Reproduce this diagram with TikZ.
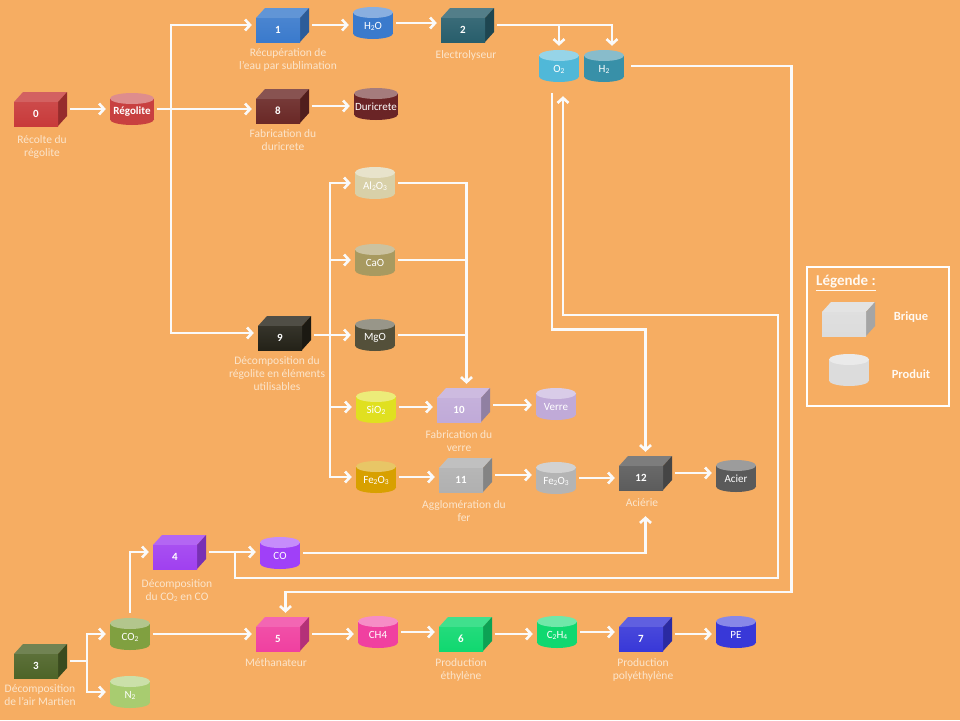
\documentclass[tikz,border=0pt]{standalone}
\usepackage{fontspec}
\setmainfont{Carlito}
\usetikzlibrary{arrows.meta,calc}
\definecolor{bg}{RGB}{246,173,98}
\definecolor{lbl}{RGB}{251,229,204}
\definecolor{lnc}{RGB}{250,250,250}
% bricks
\definecolor{k0}{RGB}{200,58,58}
\definecolor{k1}{RGB}{58,122,204}
\definecolor{k2}{RGB}{40,94,108}
\definecolor{k8}{RGB}{106,40,38}
\definecolor{k9}{RGB}{36,34,24}
\definecolor{k10}{RGB}{192,170,216}
\definecolor{k11}{RGB}{176,176,176}
\definecolor{k12}{RGB}{92,92,92}
\definecolor{k3}{RGB}{78,100,40}
\definecolor{k4}{RGB}{160,64,240}
\definecolor{k5}{RGB}{240,64,160}
\definecolor{k6}{RGB}{16,216,112}
\definecolor{k7}{RGB}{56,56,216}
\definecolor{kleg}{RGB}{220,220,220}
% cylinders
\definecolor{yreg}{RGB}{200,64,64}
\definecolor{yh2o}{RGB}{58,122,204}
\definecolor{yo2}{RGB}{80,184,216}
\definecolor{yh2}{RGB}{56,144,168}
\definecolor{yduri}{RGB}{106,36,38}
\definecolor{yal}{RGB}{216,208,168}
\definecolor{ycao}{RGB}{168,154,96}
\definecolor{ymgo}{RGB}{84,80,58}
\definecolor{ysio}{RGB}{224,224,32}
\definecolor{yfe1}{RGB}{216,160,0}
\definecolor{yverre}{RGB}{192,170,216}
\definecolor{yfe2}{RGB}{180,180,180}
\definecolor{yacier}{RGB}{90,90,90}
\definecolor{yco}{RGB}{160,64,248}
\definecolor{yco2}{RGB}{128,160,64}
\definecolor{yn2}{RGB}{168,204,112}
\definecolor{ych4}{RGB}{240,64,160}
\definecolor{yc2h4}{RGB}{16,216,112}
\definecolor{ype}{RGB}{56,56,216}
\newcommand\sbs[1]{\raisebox{-0.2ex}{\fontsize{7.5}{8}\selectfont #1}}
\tikzset{
  flow/.style={draw=lnc, line width=2.6pt, line cap=rect,
    -{Straight Barb[length=5pt,width=11pt]}, shorten >=4pt},
  gap/.style={shorten <=4pt},
  plain/.style={draw=lnc, line width=2.6pt, line cap=rect},
  bx/.style={inner sep=0pt, minimum width=53pt, minimum height=34pt},
  cyn/.style={inner sep=0pt, minimum height=32pt},
  numtxt/.style={text=white, inner sep=0pt, font=\bfseries\fontsize{11}{12}\selectfont},
  cyltxt/.style={text=white, inner sep=0pt, font=\fontsize{11}{12}\selectfont},
  caption/.style={text=lbl, align=center, inner sep=0pt, font=\fontsize{11.5}{13}\selectfont},
  legtxt/.style={text=white!95!orange, inner sep=0pt, font=\bfseries\fontsize{12.5}{14}\selectfont},
}
% brick: name, fx, fy (front centre), colour, label
\newcommand\brick[5]{%
  \fill[#4!80!white] (#2-22,#3-12) -- (#2-13,#3-22) -- (#2+31,#3-22) -- (#2+22,#3-12) -- cycle;
  \fill[#4!75!black] (#2+22,#3-12) -- (#2+31,#3-22) -- (#2+31,#3+2) -- (#2+22,#3+12) -- cycle;
  \shade[top color=#4!92!white, bottom color=#4] (#2-22,#3-12) rectangle (#2+22,#3+12);
  \node[bx] (#1) at (#2+4.5,#3-5) {};
  \node[numtxt] (#1t) at (#2,#3) {#5};
}
% cylinder: name, cx, cy, width, colour, text
\newcommand\cyl[6]{%
  \pgfmathsetmacro\hw{#4/2}
  \fill[#5] (#2-\hw,#3-10.5) rectangle (#2+\hw,#3+10.5);
  \fill[#5] (#2,#3+10.5) ellipse [x radius=\hw, y radius=5.5];
  \fill[#5!60!white] (#2,#3-10.5) ellipse [x radius=\hw, y radius=5.5];
  \node[cyn, minimum width=#4pt] (#1) at (#2,#3) {};
  \node[cyltxt] (#1t) at (#2,#3+3) {#6};
}
\begin{document}
\begin{tikzpicture}[x=1pt,y=-1pt]
\useasboundingbox (0,0) rectangle (960,720);
\fill[bg] (0,0) rectangle (960,720);

% ---------- bricks ----------
\brick{b0}{36}{114}{k0}{0}
\brick{b1}{278}{30}{k1}{1}
\brick{b2}{463}{30}{k2}{2}
\brick{b8}{278}{111}{k8}{8}
\brick{b9}{280}{338}{k9}{9}
\brick{b10}{459}{410}{k10}{10}
\brick{b11}{461}{480}{k11}{11}
\brick{b12}{641}{478}{k12}{12}
\brick{b3}{36}{666}{k3}{3}
\brick{b4}{175}{557}{k4}{4}
\brick{b5}{278}{639}{k5}{5}
\brick{b6}{461}{639}{k6}{6}
\brick{b7}{641}{639}{k7}{7}

% ---------- cylinders ----------
\cyl{reg}{132}{109}{44}{yreg}{\textbf{Régolite}}
\cyl{h2o}{373}{23}{40}{yh2o}{H\sbs{2}O}
\cyl{o2}{559}{66}{40}{yo2}{O\sbs{2}}
\cyl{h2}{604}{66}{40}{yh2}{H\sbs{2}}
\cyl{duri}{376}{104}{44}{yduri}{Duricrete}
\cyl{al}{375}{183}{40}{yal}{Al\sbs{2}O\sbs{3}}
\cyl{cao}{375}{260}{40}{ycao}{CaO}
\cyl{mgo}{375}{335}{40}{ymgo}{MgO}
\cyl{sio}{376}{407}{40}{ysio}{SiO\sbs{2}}
\cyl{fe1}{376}{477}{40}{yfe1}{Fe\sbs{2}O\sbs{3}}
\cyl{verre}{556}{404}{40}{yverre}{Verre}
\cyl{fe2}{556}{478}{40}{yfe2}{Fe\sbs{2}O\sbs{3}}
\cyl{acier}{736}{476}{40}{yacier}{Acier}
\cyl{co}{280}{553}{40}{yco}{CO}
\cyl{co2}{130}{634}{40}{yco2}{CO\sbs{2}}
\cyl{n2}{130}{692}{40}{yn2}{N\sbs{2}}
\cyl{ch4}{378}{632}{40}{ych4}{CH4}
\cyl{c2h4}{557}{632}{40}{yc2h4}{C\sbs{2}H\sbs{4}}
\cyl{pe}{736}{632}{40}{ype}{PE}

% ---------- captions ----------
\node[caption] (c0) at (42,146.5) {Récolte du\\régolite};
\node[caption] (c1) at (288,59.5) {Récupération de\\l’eau par sublimation};
\node[caption] (c2) at (466,55) {Electrolyseur};
\node[caption] (c8) at (283,140.5) {Fabrication du\\duricrete};
\node[caption] (c9) at (277,374) {Décomposition du\\régolite en éléments\\utilisables};
\node[caption] (c10) at (459,441.5) {Fabrication du\\verre};
\node[caption] (c11) at (464,511.5) {Agglomération du\\fer};
\node[caption] (c12) at (642,503) {Aciérie};
\node[caption] (c4) at (177,590.5) {Décomposition\\du CO\sbs{2} en CO};
\node[caption] (c3) at (40,695.5) {Décomposition\\de l’air Martien};
\node[caption] (c5) at (276,663) {Méthanateur};
\node[caption] (c6) at (461,669.5) {Production\\éthylène};
\node[caption] (c7) at (643,669.5) {Production\\polyéthylène};

% ---------- junction coordinates ----------
\coordinate (jr) at (171,109);
\coordinate (jm) at (330,335);
\coordinate (jv) at ([xshift=3]b10.north);
\coordinate (jc) at (235,552);
\coordinate (j3) at (87,661);

% ---------- connectors ----------
\draw[flow,gap] (b0.east) -- (b0.east -| reg.west);
\draw[flow,gap] (reg.east) -- (reg.east -| b8.west);
\draw[flow] (jr) |- (b1.west);
\draw[flow] (jr) |- (b9.west);
\draw[flow,gap] (b1.east) -- (b1.east -| h2o.west);
\draw[flow,gap] (h2o.east) -- (h2o.east -| b2.west);
\draw[flow,gap] (b2.east) -| ([xshift=8]h2.north);
\draw[flow] (o2.north |- b2.east) -- (o2.north);
\draw[flow,gap] (b8.east) -- (b8.east -| duri.west);
\draw[flow,gap] (mgo.west -| b9.east) -- (mgo.west);
\draw[flow] (jm) |- (al.west);
\draw[flow] (jm) |- (cao.west);
\draw[flow] (jm) |- (sio.west);
\draw[flow] (jm) |- (fe1.west);
\draw[flow,gap] (al.east) -| (jv);
\draw[plain,gap] (cao.east) -- (cao.east -| jv);
\draw[plain,gap] (mgo.east) -- (mgo.east -| jv);
\draw[flow,gap] (sio.east) -- (sio.east -| b10.west);
\draw[flow,gap] (b10.east) -- (b10.east -| verre.west);
\draw[flow,gap] (fe1.east) -- (fe1.east -| b11.west);
\draw[flow,gap] (b11.east) -- (b11.east -| fe2.west);
\draw[flow,gap] (fe2.east) -- (fe2.east -| b12.west);
\draw[flow,gap] (b12.east) -- (b12.east -| acier.west);
% oxygen to steel works
\draw[flow] ([shift={(-7,12)}]o2.south) -- ++(0,235) -| (b12.north);
% oxygen from CO2 decomposition
\draw[flow,shorten >=14pt] (jc) -- ++(0,26) -| ++(543,-263) -| ([xshift=4]o2.south);
% hydrogen to methanation
\draw[flow,shorten <=8pt] (h2.east) -| ++(167,526) -| ([xshift=3]b5.north);
% CO to steel works
\draw[flow,gap,shorten >=26pt] (co.east) -| (b12.south);
\draw[flow,gap] (b4.east) -- (b4.east -| co.west);
% Martian air
\draw[plain,gap] (b3.east) -- (j3);
\draw[flow] (j3) |- (co2.west);
\draw[flow] (j3) |- (n2.west);
\draw[flow,gap] (co2.east) -- (co2.east -| b5.west);
\draw[flow,shorten <=6pt] (co2.north) |- (b4.west);
\draw[flow,gap] (b5.east) -- (b5.east -| ch4.west);
\draw[flow,gap] (ch4.east) -- (ch4.east -| b6.west);
\draw[flow,gap] (b6.east) -- (b6.east -| c2h4.west);
\draw[flow,gap] (c2h4.east) -- (c2h4.east -| b7.west);
\draw[flow,gap] (b7.east) -- (b7.east -| pe.west);

% ---------- legend ----------
\node[draw=white, line width=2.5pt, minimum width=142pt, minimum height=139pt, inner sep=0pt] (leg) at (878,336.5) {};
\node[legtxt, font=\bfseries\fontsize{15}{17}\selectfont] (legt) at (846,283) {\underline{Légende :}};
\brick{lb}{844}{324}{kleg}{}
\cyl{lc}{849}{370}{40}{kleg}{}
\node[legtxt] (lbt) at (911,317) {Brique};
\node[legtxt] (lct) at (911,374) {Produit};
\end{tikzpicture}
\end{document}
